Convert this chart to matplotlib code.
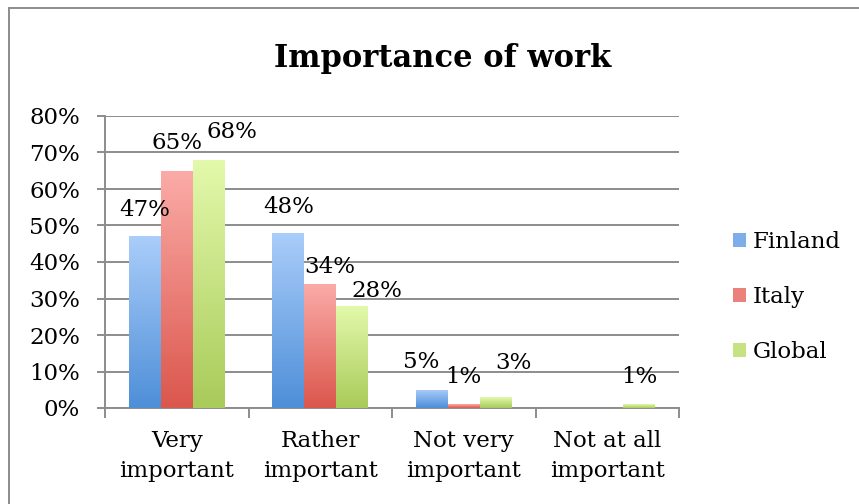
import numpy as np
import matplotlib.pyplot as plt
import matplotlib.colors as mcolors
from matplotlib.patches import Patch
from matplotlib.ticker import PercentFormatter

# survey answers, share of respondents (%)
categories = ['Very\nimportant', 'Rather\nimportant', 'Not very\nimportant', 'Not at all\nimportant']
series = ['Finland', 'Italy', 'Global']
finland = [47, 48, 5, 0]
italy = [65, 34, 1, 0]
globl = [68, 28, 3, 1]

# top / bottom colours of the bar gradients
grad = {
    'Finland': ('#aacdfa', '#4e8fd8'),
    'Italy': ('#fbaba7', '#db574d'),
    'Global': ('#e3f9ab', '#a9cb5a'),
}
# where each value label sits relative to its bar top (pixels)
label_shift = {
    'Finland': [(0, 26), (0, 26), (-11, 28), (0, 27)],
    'Italy': [(0, 28), (10, 17), (0, 27), (0, 27)],
    'Global': [(23, 28), (25, 15), (18, 34), (0, 27)],
}

plt.rcParams['font.family'] = ['DejaVu Serif']
fs = 16.5

fig = plt.figure(figsize=(8.59, 5.04), dpi=100)
ax = fig.add_axes([105 / 859, 1 - 408 / 504, (679 - 105) / 859, (408 - 116) / 504])

x = np.arange(len(categories))
w = 0.2222
values = [finland, italy, globl]

for i, (name, vals) in enumerate(zip(series, values)):
    bars = ax.bar(x + (i - 1) * w, vals, w, color='none', edgecolor='none', zorder=3)
    cmap = mcolors.LinearSegmentedColormap.from_list(name, [grad[name][1], grad[name][0]])
    for j, b in enumerate(bars):
        if vals[j] == 0:
            continue
        x0, y0 = b.get_x(), b.get_y()
        img = ax.imshow(np.linspace(0, 1, 100).reshape(-1, 1), cmap=cmap, origin='lower',
                        aspect='auto', extent=[x0, x0 + b.get_width(), y0, y0 + b.get_height()],
                        zorder=3)
        img.set_clip_path(b)
        dx, dy = label_shift[name][j]
        ax.annotate(f'{vals[j]}%', (x0 + b.get_width() / 2, vals[j]),
                    xytext=(dx * 0.72, dy * 0.72), textcoords='offset points',
                    ha='center', va='center', fontsize=fs, zorder=4)

ax.set_xlim(-0.5, len(categories) - 0.5)
ax.set_ylim(0, 80)
ax.set_yticks(np.arange(0, 81, 10))
ax.yaxis.set_major_formatter(PercentFormatter(decimals=0))
ax.grid(axis='y', color='#8c8c8c', lw=1.4, zorder=0)
ax.set_axisbelow(True)

ax.set_xticks(x)
ax.set_xticklabels(categories, fontsize=fs, linespacing=1.45)
ax.set_xticks(np.arange(-0.5, len(categories)), minor=True)
ax.tick_params(axis='x', which='major', length=0, pad=16)
ax.tick_params(axis='x', which='minor', length=7, width=1.4, color='#8c8c8c', direction='out')
ax.tick_params(axis='y', length=6, width=1.4, color='#8c8c8c', labelsize=fs, pad=12)

for s in ['top', 'right']:
    ax.spines[s].set_visible(False)
for s in ['left', 'bottom']:
    ax.spines[s].set_color('#8c8c8c')
    ax.spines[s].set_linewidth(1.4)

handles = [Patch(facecolor=mcolors.to_hex(np.mean([mcolors.to_rgb(c) for c in grad[n]], axis=0)))
           for n in series]
fig.legend(handles, series, loc='center left', bbox_to_anchor=(722 / 859, 1 - 297 / 504),
           frameon=False, fontsize=fs, handlelength=0.55, handleheight=0.55,
           handletextpad=0.3, labelspacing=1.45, borderpad=0)

fig.text(443 / 859, 1 - 58 / 504, 'Importance of work', ha='center', va='center',
         fontsize=22, fontweight='bold')

# chart frame (top and left edges)
fig.add_artist(plt.Line2D([9 / 859, 1], [1 - 8 / 504] * 2, color='#8c8c8c', lw=1.4))
fig.add_artist(plt.Line2D([9 / 859] * 2, [0, 1 - 8 / 504], color='#8c8c8c', lw=1.4))

fig.savefig('out.png', dpi=100)
